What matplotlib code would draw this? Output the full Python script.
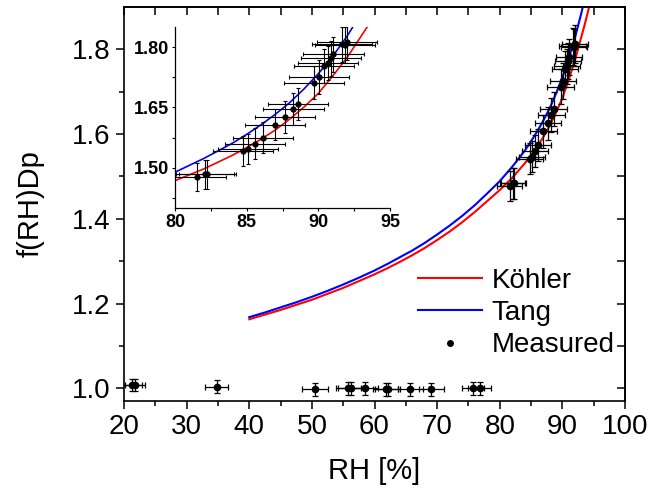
import numpy as np
import matplotlib.pyplot as plt
from matplotlib.lines import Line2D

plt.rcParams['font.family'] = ['Liberation Sans', 'DejaVu Sans']

# model curves
rh_kohler = [40, 42.5, 45, 47.5, 50, 52.5, 55, 57.5, 60, 62, 64, 66, 68, 70,
             72, 74, 76, 78, 80, 82, 84, 85, 86, 87, 88, 89, 90, 91, 92, 93,
             93.5, 94, 94.5]
f_kohler = [1.163, 1.174, 1.185, 1.197, 1.209, 1.223, 1.237, 1.253, 1.269,
            1.283, 1.298, 1.314, 1.331, 1.350, 1.370, 1.392, 1.416, 1.442,
            1.468, 1.497, 1.531, 1.550, 1.571, 1.594, 1.621, 1.651, 1.685,
            1.728, 1.774, 1.828, 1.855, 1.884, 1.915]

rh_tang = [40, 42.5, 45, 47.5, 50, 52.5, 55, 57.5, 60, 62, 64, 66, 68, 70,
           72, 74, 76, 78, 80, 82, 84, 85, 86, 87, 88, 89, 90, 91, 92, 93,
           93.5]
f_tang = [1.168, 1.179, 1.191, 1.203, 1.216, 1.230, 1.245, 1.261, 1.278,
          1.293, 1.309, 1.325, 1.343, 1.363, 1.384, 1.407, 1.432, 1.460,
          1.489, 1.523, 1.561, 1.583, 1.607, 1.633, 1.662, 1.696, 1.734,
          1.777, 1.827, 1.884, 1.915]

# measured points
rh_meas = [21.3, 21.8, 34.8, 50.5, 55.8, 56.2, 58.5, 61.8, 62.1, 65.7, 69.1,
           75.7, 76.8,
           81.56, 82.09, 82.26, 84.77, 85.12, 85.58, 86.12, 86.98, 87.68,
           88.26, 88.6, 89.7, 90.07, 90.42, 90.7, 90.87, 91.05, 91.63, 91.86,
           91.98]
f_meas = [1.008, 1.008, 1.004, 0.998, 1.000, 1.000, 1.000, 0.998, 0.998,
          0.998, 0.998, 1.000, 1.000,
          1.478, 1.484, 1.484, 1.542, 1.547, 1.560, 1.575, 1.607, 1.626,
          1.646, 1.659, 1.712, 1.726, 1.753, 1.760, 1.772, 1.782, 1.807,
          1.805, 1.813]
rh_err = [1.6, 1.6, 1.8, 2.0, 2.0, 2.0, 2.0, 2.0, 2.0, 2.0, 2.0, 1.8, 1.8,
          2.0, 2.0, 2.0, 2.1, 2.1, 2.1, 2.1, 2.1, 2.1, 2.1, 2.1, 2.1, 2.1,
          2.1, 2.1, 2.1, 2.1, 2.1, 2.1, 2.1]
f_err = [0.015, 0.015, 0.015, 0.015, 0.015, 0.015, 0.015, 0.015, 0.015,
         0.015, 0.015, 0.015, 0.015,
         0.035, 0.036, 0.036, 0.037, 0.037, 0.038, 0.038, 0.039, 0.039,
         0.040, 0.040, 0.041, 0.042, 0.042, 0.042, 0.043, 0.043, 0.044,
         0.044, 0.044]

fig = plt.figure(figsize=(6.52, 4.9), dpi=100)
ax = fig.add_axes([0.1902, 0.1816, 0.7684, 0.8041])

ax.plot(rh_kohler, f_kohler, color='#ff0000', lw=1.5, zorder=2)
ax.plot(rh_tang, f_tang, color='#0000ff', lw=1.5, zorder=2)
ax.errorbar(rh_meas, f_meas, xerr=rh_err, yerr=f_err, fmt='o', color='black',
            ms=4.5, ecolor='black', elinewidth=0.9, capsize=2, capthick=0.9,
            zorder=3)

ax.set_xlim(20, 100)
ax.set_ylim(0.97, 1.9)
ax.set_xticks(np.arange(20, 101, 10))
ax.set_xticks(np.arange(25, 100, 10), minor=True)
ax.set_yticks([1.0, 1.2, 1.4, 1.6, 1.8])
ax.set_yticks([1.1, 1.3, 1.5, 1.7], minor=True)
ax.tick_params(which='both', direction='out', labelsize=20, width=1.1)
ax.tick_params(which='major', length=6)
ax.tick_params(which='minor', length=3.5)
for s in ax.spines.values():
    s.set_linewidth(1.2)

# top and right: inward ticks, no labels
top = ax.secondary_xaxis('top')
top.set_xticks(np.arange(20, 101, 5))
top.tick_params(direction='in', length=5.5, width=1.1, labeltop=False)
right = ax.secondary_yaxis('right')
right.set_yticks(np.arange(1.0, 1.85, 0.1))
right.tick_params(direction='in', length=5.5, width=1.1, labelright=False)
top.spines['top'].set_linewidth(1.2)
right.spines['right'].set_linewidth(1.2)

ax.set_xlabel('RH [%]', fontsize=21, labelpad=12)
ax.set_ylabel('f(RH)Dp', fontsize=21, labelpad=20)

handles = [Line2D([], [], color='#ff0000', lw=1.5),
           Line2D([], [], color='#0000ff', lw=1.5),
           Line2D([], [], color='black', marker='o', ms=4, ls='none')]
ax.legend(handles, ['Köhler', 'Tang', 'Measured'], loc='center',
          bbox_to_anchor=(0.783, 0.223), frameon=False, fontsize=20,
          handlelength=2.3, handletextpad=0.36, labelspacing=0.22,
          borderpad=0.2)

# inset
ins = fig.add_axes([0.2684, 0.5755, 0.3298, 0.3694])
ins.plot(rh_kohler, f_kohler, color='#ff0000', lw=1.2, zorder=2)
ins.plot(rh_tang, f_tang, color='#0000ff', lw=1.2, zorder=2)
ins.errorbar(rh_meas, f_meas, xerr=rh_err, yerr=f_err, fmt='o', color='black',
             ms=3.5, ecolor='black', elinewidth=0.8, capsize=1.3,
             capthick=0.8, zorder=3)
ins.set_xlim(80, 95)
ins.set_ylim(1.40, 1.85)
ins.set_xticks([80, 85, 90, 95])
ins.set_xticks([82.5, 87.5, 92.5], minor=True)
ins.set_yticks([1.50, 1.65, 1.80])
ins.set_yticks([1.425, 1.575, 1.725], minor=True)
ins.set_yticklabels(['1.50', '1.65', '1.80'])
ins.spines['top'].set_visible(False)
ins.spines['right'].set_visible(False)
for s in ['left', 'bottom']:
    ins.spines[s].set_linewidth(0.9)
ins.tick_params(which='both', direction='out', length=2.5, width=0.8,
                labelsize=13, pad=2)
for lab in ins.get_xticklabels() + ins.get_yticklabels():
    lab.set_fontweight('bold')

fig.savefig('out.png', dpi=100)
